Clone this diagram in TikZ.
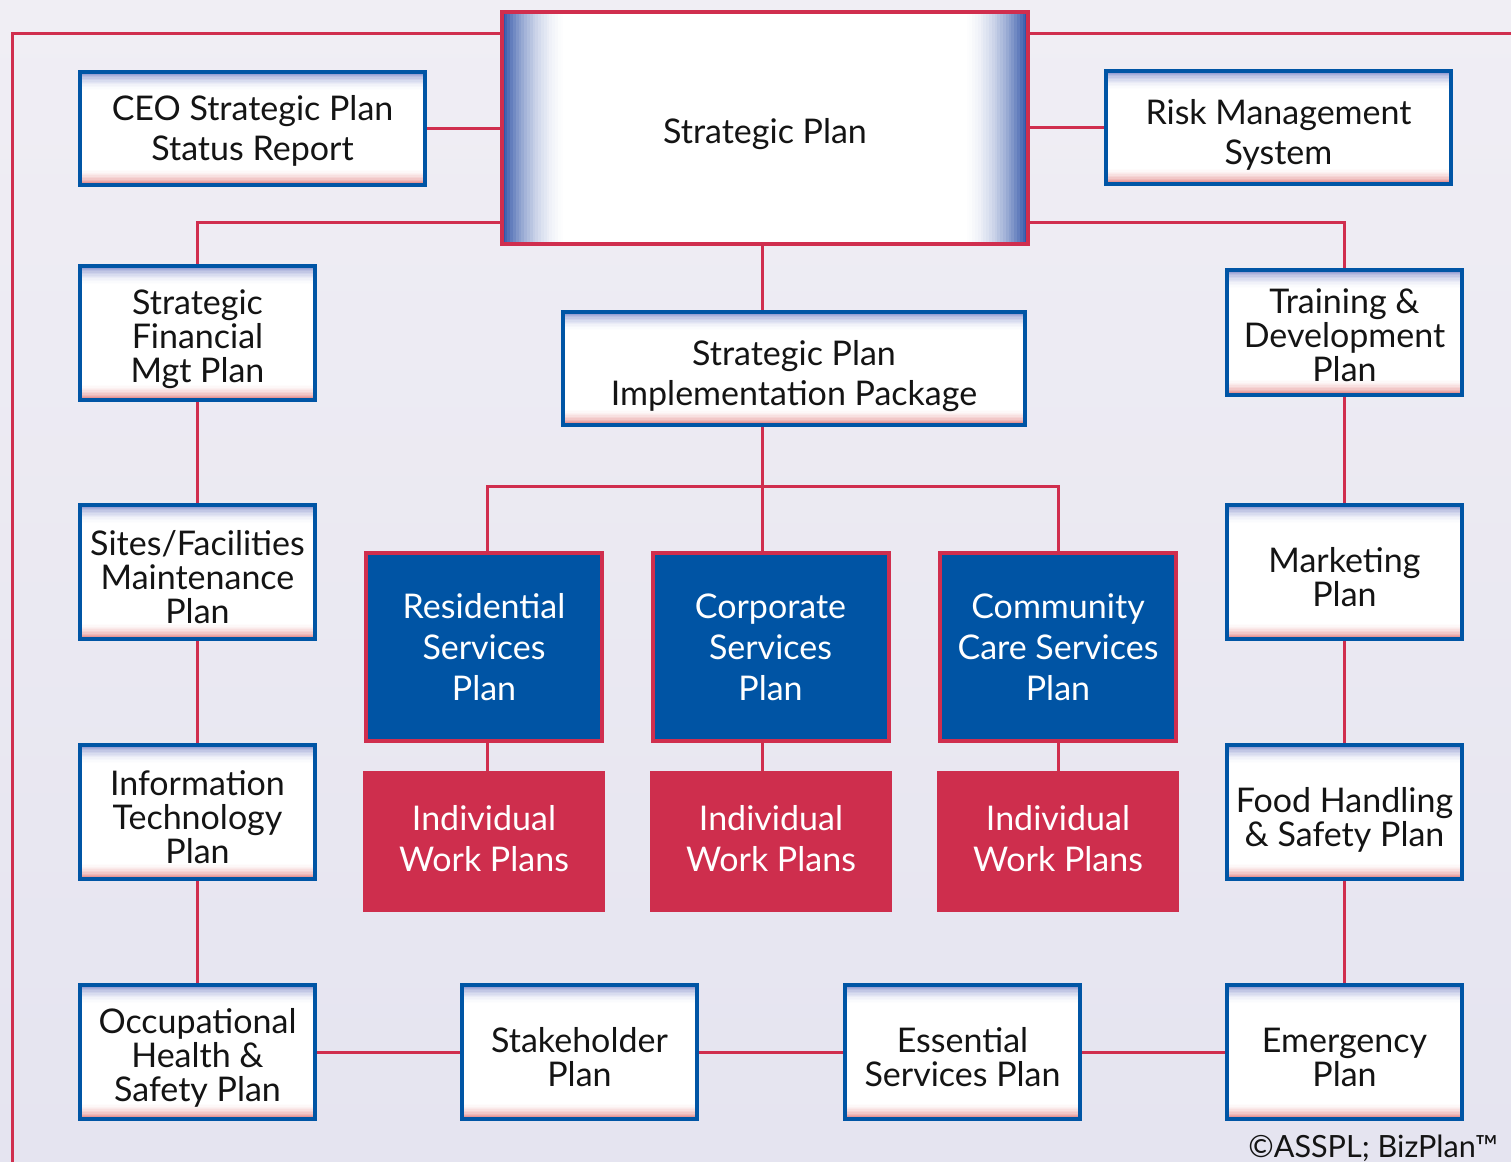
\documentclass[tikz,border=0pt]{standalone}
\usepackage{fontspec}
\setmainfont{Lato}
\definecolor{lnred}{RGB}{208,46,78}
\definecolor{bxblue}{RGB}{0,85,165}
\definecolor{fillblue}{RGB}{0,84,164}
\definecolor{fillred}{RGB}{206,46,77}
\definecolor{topblue}{RGB}{135,145,205}
\definecolor{botred}{RGB}{225,130,130}
\definecolor{spblue}{RGB}{50,85,168}
\definecolor{bgtop}{RGB}{240,238,244}
\definecolor{bgbot}{RGB}{229,228,240}
\definecolor{txt}{RGB}{20,20,20}
\begin{document}
\begin{tikzpicture}[x=0.5pt,y=-0.5pt,
  conn/.style={draw=lnred,line width=1.5pt},
  wbox/.style={draw=bxblue,line width=2pt,fill=white,align=center,inner sep=0pt,text=txt,
    font=\fontsize{17}{17}\selectfont,text depth=0pt,
    path picture={
      \foreach \i [evaluate=\i as \pc using int(100*(1-\i/14)^2)] in {0,...,13} {
        \fill[topblue!\pc!white] ([yshift={-\i*0.7pt+0.1pt}]path picture bounding box.north west) rectangle ([yshift={-(\i+1)*0.7pt}]path picture bounding box.north east);
      }
      \foreach \i [evaluate=\i as \pc using int(100*(1-\i/12)^2)] in {0,...,11} {
        \fill[botred!\pc!white] ([yshift={\i*0.7pt-0.1pt}]path picture bounding box.south west) rectangle ([yshift={(\i+1)*0.7pt}]path picture bounding box.south east);
      }
    }},
  spbox/.style={draw=lnred,line width=2pt,fill=white,align=center,inner sep=0pt,text=txt,
    font=\fontsize{17}{20}\selectfont,text height=15.5pt,text depth=0pt,
    minimum width=263pt,minimum height=116pt,
    path picture={
      \foreach \i [evaluate=\i as \pc using int(100*(1-\i/24)^2)] in {0,...,23} {
        \fill[spblue!\pc!white] ([xshift={\i*1.4pt-0.1pt}]path picture bounding box.south west) rectangle ([xshift={(\i+1)*1.4pt}]path picture bounding box.north west);
        \fill[spblue!\pc!white] ([xshift={-\i*1.4pt+0.1pt}]path picture bounding box.south east) rectangle ([xshift={-(\i+1)*1.4pt}]path picture bounding box.north east);
      }
    }},
  widebox/.style={wbox,minimum width=172.5pt,minimum height=56.5pt,font=\fontsize{17}{20}\selectfont,text height=36.5pt},
  colbox/.style={wbox,minimum width=117.5pt,minimum height=67pt},
  three/.style={text height=51pt},
  two/.style={text height=34pt},
  bbox/.style={draw=lnred,line width=2pt,fill=fillblue,text=white,align=center,inner sep=0pt,
    minimum width=118pt,minimum height=94pt,font=\fontsize{17}{20.5}\selectfont},
  rbox/.style={fill=fillred,text=white,align=center,inner sep=0pt,
    minimum width=121pt,minimum height=70.5pt,font=\fontsize{17}{20.5}\selectfont,
    execute at end node={\rule[-3.5pt]{0pt}{3.5pt}}}
]
\useasboundingbox (0,0) rectangle (1511,1162);
\shade[top color=bgtop,bottom color=bgbot] (0,0) rectangle (1511,1162);

% top row
\node[spbox] (sp) at (765,128) {Strategic Plan};
\node[widebox,text height=33pt,text depth=1pt] (ceo) at (252.5,128.5) {CEO Strategic Plan\\Status Report};
\node[widebox] (risk) at (1278.5,127.5) {Risk Management\\System};

% left column
\node[colbox,three,text height=49.5pt] (sfm) at (197.5,333) {Strategic\\Financial\\Mgt Plan};
\node[colbox,three] (sites) at (197.5,572) {Sites/Facilities\\Maintenance\\Plan};
\node[colbox,three] (it) at (197.5,812) {Information\\Technology\\Plan};
\node[colbox,three,text height=49.5pt] (ohs) at (197.5,1052) {Occupational\\Health \&\\Safety Plan};

% right column
\node[colbox,minimum height=62.5pt,text height=49pt] (train) at (1344.5,332.5) {Training \&\\Development\\Plan};
\node[colbox,two] (mkt) at (1344.5,572) {Marketing\\Plan};
\node[colbox,two] (food) at (1344.5,812) {Food Handling\\\& Safety Plan};
\node[colbox,two] (emer) at (1344.5,1052) {Emergency\\Plan};

% bottom middle
\node[colbox,two] (stake) at (579.5,1052) {Stakeholder\\Plan};
\node[colbox,two] (ess) at (962.5,1052) {Essential\\Services Plan};

% centre
\node[widebox,minimum width=231pt] (spip) at (794,368.5) {Strategic Plan\\Implementation Package};

\node[bbox] (res) at (484,647) {Residential\\Services\\Plan};
\node[bbox] (corp) at (770.5,647) {Corporate\\Services\\Plan};
\node[bbox] (comm) at (1058,647) {Community\\Care Services\\Plan};

\node[rbox] (rw1) at (484,841.5) {Individual\\Work Plans};
\node[rbox] (rw2) at (771,841.5) {Individual\\Work Plans};
\node[rbox] (rw3) at (1058,841.5) {Individual\\Work Plans};

\node[anchor=east,text=txt,font=\fontsize{15.3}{18}\selectfont] (copy) at (1505,1148) {©ASSPL; BizPlan™};

% connectors
\coordinate (fbl) at (12,1162);
\coordinate (fcl) at (12,33);
\coordinate (fr) at (1511,33);
\coordinate (y222) at (0,222);
\coordinate (tk) at (762,486);
\coordinate (bx1) at (487,486);
\coordinate (bx3) at (1058,486);

\draw[conn] (fbl) -- (fcl) -- (fcl -| sp.west);
\draw[conn] (fr -| sp.east) -- (fr);
\draw[conn] (ceo.east) -- (ceo.east -| sp.west);
\draw[conn] (risk.west) -- (risk.west -| sp.east);
\draw[conn] (y222 -| sp.west) -| (sfm.north);
\draw[conn] (y222 -| sp.east) -| (train.north);

\draw[conn] (sfm.south) -- (sites.north);
\draw[conn] (sites.south) -- (it.north);
\draw[conn] (it.south) -- (ohs.north);
\draw[conn] (train.south) -- (mkt.north);
\draw[conn] (mkt.south) -- (food.north);
\draw[conn] (food.south) -- (emer.north);

\draw[conn] (ohs.east) -- (stake.west);
\draw[conn] (stake.east) -- (ess.west);
\draw[conn] (ess.east) -- (emer.west);

\draw[conn] (sp.south -| tk) -- (spip.north -| tk);
\draw[conn] (spip.south -| tk) -- (tk) -- (corp.north -| tk);
\draw[conn] (bx1 |- res.north) -- (bx1) -- (bx3) -- (bx3 |- comm.north);

\draw[conn] (res.south -| bx1) -- (rw1.north -| bx1);
\draw[conn] (corp.south -| tk) -- (rw2.north -| tk);
\draw[conn] (comm.south -| bx3) -- (rw3.north -| bx3);
\end{tikzpicture}
\end{document}
